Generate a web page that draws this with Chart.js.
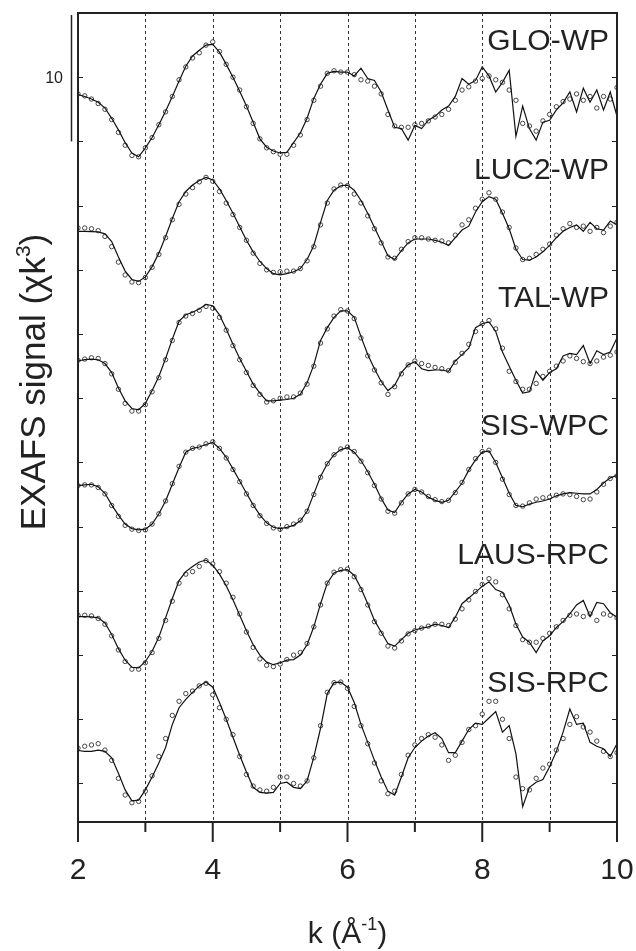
<!DOCTYPE html>
<html>
<head>
<meta charset="utf-8">
<script src="https://cdn.jsdelivr.net/npm/chart.js@4.4.1/dist/chart.umd.min.js"></script>
<style>
  html, body { margin: 0; padding: 0; background: #fff; }
</style>
</head>
<body>
<canvas id="exafs" width="636" height="951"></canvas>
<script>
// k grid (Å^-1)
const kValues = [
  2.0, 2.1, 2.2, 2.3, 2.4, 2.5, 2.6, 2.7, 2.8, 2.9,
  3.0, 3.1, 3.2, 3.3, 3.4, 3.5, 3.6, 3.7, 3.8, 3.9,
  4.0, 4.1, 4.2, 4.3, 4.4, 4.5, 4.6, 4.7, 4.8, 4.9,
  5.0, 5.1, 5.2, 5.3, 5.4, 5.5, 5.6, 5.7, 5.8, 5.9,
  6.0, 6.1, 6.2, 6.3, 6.4, 6.5, 6.6, 6.7, 6.8, 6.9,
  7.0, 7.1, 7.2, 7.3, 7.4, 7.5, 7.6, 7.7, 7.8, 7.9,
  8.0, 8.1, 8.2, 8.3, 8.4, 8.5, 8.6, 8.7, 8.8, 8.9,
  9.0, 9.1, 9.2, 9.3, 9.4, 9.5, 9.6, 9.7, 9.8, 9.9,
  10.0
];

const sampleNames = ["GLO-WP", "LUC2-WP", "TAL-WP", "SIS-WPC", "LAUS-RPC", "SIS-RPC"];
// vertical shift of each spectrum (chi*k^3 units)
const sampleOffsets = [53, 43, 33, 23, 13, 3];

// fitted spectra (solid lines)
const gloFit = [
  0.65, 0.5, 0.3, 0.05, -0.4, -1.2, -2.1, -3.1, -3.9, -4.2,
  -3.5, -2.7, -1.7, -0.65, 0.5, 1.7, 2.85, 3.65, 4.1, 4.5,
  4.55, 3.95, 3.0, 2.0, 0.9, -0.25, -1.5, -2.8, -3.45, -3.75,
  -3.9, -3.85, -3.1, -2.35, -1.2, 0.35, 1.45, 2.3, 2.45, 2.4,
  2.4, 2.1, 2.7, 1.9, 1.75, 0.85, -0.55, -1.9, -2.0, -2.9,
  -1.75, -2.0, -1.35, -1.05, -0.55, -0.25, 0.5, 1.9, 1.45, 1.75,
  2.8, 2.1, 0.85, 1.6, 2.55, -2.6, -0.25, -2.0, -2.9, -1.5,
  -1.35, -0.55, 0, 0.85, -0.7, 1.15, 0.05, 1.0, -0.55, 0.85,
  -1.05
];
const luc2Fit = [
  0.0, 0.0, -0.02, -0.05, -0.2, -0.8, -2.0, -3.1, -3.75, -3.9,
  -3.55, -2.75, -1.7, -0.4, 1.0, 2.3, 3.1, 3.6, 3.95, 4.2,
  4.0, 3.3, 2.4, 1.4, 0.35, -0.7, -1.6, -2.35, -2.9, -3.3,
  -3.4, -3.3, -3.15, -2.9, -2.2, -1.1, 0.7, 2.4, 3.2, 3.55,
  3.6, 3.2, 2.4, 1.4, 0.3, -0.8, -1.9, -2.2, -1.5, -0.9,
  -0.6, -0.6, -0.6, -0.7, -0.85, -1.1, -0.5, 0.1, 0.4, 1.5,
  2.3, 2.7, 2.5, 1.4, 0.2, -1.4, -2.2, -2.25, -2.0, -1.6,
  -1.1, -0.5, 0.0, 0.3, 0.5, 0.0, 0.7, 0.2, 0.1, 0.8,
  0.5
];
const talFit = [
  -0.1, 0.0, 0.05, 0.0, -0.3, -1.0, -2.2, -3.2, -3.8, -3.9,
  -3.4, -2.4, -1.3, 0.1, 1.6, 3.0, 3.5, 3.7, 3.95, 4.3,
  4.2, 3.5, 2.4, 1.2, 0.1, -0.9, -1.9, -2.6, -3.2, -3.2,
  -3.15, -3.1, -3.0, -2.7, -1.8, -0.4, 1.5, 2.5, 3.3, 3.8,
  3.8, 3.3, 1.8, 0.4, -0.7, -1.7, -2.4, -2.0, -1.0, -0.4,
  -0.15, -0.7, -0.85, -0.8, -0.8, -0.9, -0.1, 0.4, 0.9, 2.5,
  2.8, 2.95, 2.2, 0.6, -0.5, -1.6, -2.6, -2.5, -0.9, -1.6,
  -1.0, -0.7, 0.3, 0.5, 0.4, 1.1, -0.3, 0.7, 0.4, 0.6,
  1.7
];
const sisWpcFit = [
  0.2, 0.25, 0.3, 0.1, -0.4, -1.3, -2.1, -2.8, -3.15, -3.25,
  -3.2, -2.8, -2.0, -1.0, 0.3, 1.6, 2.8, 3.1, 3.2, 3.4,
  3.55, 3.1, 2.4, 1.5, 0.55, -0.4, -1.3, -2.1, -2.7, -3.05,
  -3.15, -3.05, -2.9, -2.55, -1.8, -0.45, 0.9, 1.9, 2.6, 3.0,
  3.15, 2.8, 2.15, 1.3, 0.3, -0.8, -1.7, -1.9, -1.1, -0.45,
  -0.1, -0.3, -0.7, -0.95, -1.1, -0.95, -0.3, 0.4, 1.4, 2.2,
  2.8, 2.9, 2.0, 0.8, -0.4, -1.35, -1.45, -1.25, -1.1, -1.0,
  -0.85, -0.6, -0.45, -0.35, -0.4, -0.45, -0.45, -0.1, 0.4, 0.8,
  1.0
];
const lausFit = [
  0.0, 0.0, -0.02, -0.1, -0.5, -1.4, -2.5, -3.4, -3.95, -4.0,
  -3.5, -2.7, -1.6, -0.1, 1.4, 2.8, 3.5, 3.9, 4.25, 4.4,
  4.0, 3.3, 2.4, 1.3, 0.1, -1.1, -2.2, -3.0, -3.55, -3.75,
  -3.6, -3.4, -3.35, -3.0, -2.2, -0.8, 1.0, 2.6, 3.4, 3.6,
  3.65, 3.2, 2.2, 1.0, -0.3, -1.2, -2.1, -2.3, -1.8, -1.3,
  -1.05, -0.9, -0.8, -0.6, -0.7, -0.85, -0.05, 1.0, 1.45, 1.9,
  2.35, 2.7, 2.1, 1.9, 0.9, -0.6, -1.6, -2.0, -2.8, -1.9,
  -1.5, -0.85, -0.4, 0.2, 0.9, 1.25, 0.0, 1.1, 1.0, 0.3,
  -0.05
];
const sisRpcFit = [
  -0.43, -0.5, -0.5, -0.4, -0.5, -1.0, -2.2, -3.5, -4.35, -4.3,
  -3.5, -2.5, -1.4, -0.2, 1.6, 2.9, 3.55, 4.1, 4.6, 4.9,
  4.5, 3.3, 2.0, 0.6, -0.8, -2.1, -3.3, -3.7, -3.75, -3.7,
  -3.0, -2.9, -3.3, -3.4, -2.8, -0.95, 1.3, 4.0, 4.85, 4.9,
  4.5, 3.3, 1.6, 0.2, -1.2, -2.5, -3.6, -3.9, -2.5, -1.0,
  -0.2, 0.3, 0.7, 0.95, 0.5, -0.6, -0.6, 0.3, 1.2, 1.7,
  1.6, 2.1, 2.6, 1.0, 1.5, -0.7, -4.8, -3.3, -2.9, -2.7,
  -1.7, -0.5, 1.0, 2.8, 1.6, 1.7, 0.2, -0.1, -0.3, -0.9,
  0.1
];

// measured spectra (open circles)
const gloData = [
  0.7, 0.55, 0.3, -0.05, -0.5, -1.3, -2.3, -3.3, -4.1, -4.2,
  -3.5, -2.7, -1.7, -0.7, 0.5, 1.8, 2.8, 3.5, 3.9, 4.5,
  4.75, 4.0, 3.0, 2.0, 1.0, -0.3, -1.6, -2.8, -3.5, -3.8,
  -4.0, -4.0, -3.3, -2.5, -1.3, 0.2, 1.3, 2.3, 2.5, 2.4,
  2.4, 2.2, 1.8, 1.7, 1.3, 0.7, -0.9, -1.8, -1.9, -1.9,
  -1.7, -1.6, -1.4, -1.1, -0.9, -0.5, 0.2, 1.0, 1.25, 1.7,
  1.9, 2.1, 1.8, 1.6, 1.0, 0.2, -1.6, -1.8, -2.2, -1.4,
  -0.9, -0.3, 0.1, 0.3, 0.7, 0.2, 0.5, -0.4, 0.5, 0.3,
  1.2
];
const luc2Data = [
  0.26, 0.26, 0.2, 0.05, -0.4, -1.2, -2.4, -3.4, -3.95, -4.0,
  -3.6, -2.8, -1.8, -0.5, 0.9, 2.1, 2.9, 3.4, 3.85, 4.2,
  3.9, 3.1, 2.2, 1.3, 0.3, -0.7, -1.7, -2.5, -3.0, -3.2,
  -3.15, -3.1, -3.1, -2.9, -2.3, -1.2, 0.5, 2.2, 3.3, 3.6,
  3.55, 2.9, 2.2, 1.2, 0.2, -0.9, -2.0, -2.1, -1.4, -0.8,
  -0.5, -0.5, -0.6, -0.7, -0.75, -0.9, -0.3, 0.5, 0.9, 1.8,
  2.5, 3.0, 2.5, 1.5, 0.3, -1.3, -2.2, -2.1, -1.8, -1.4,
  -1.0, -0.3, 0.2, 0.6, 0.3, 0.4, 0.0, 0.3, -0.1, 0.4,
  0.7
];
const talData = [
  -0.05, 0.05, 0.15, 0.1, -0.3, -1.1, -2.3, -3.4, -4.0, -4.0,
  -3.5, -2.5, -1.4, 0.0, 1.5, 2.9, 3.4, 3.6, 3.85, 4.15,
  4.0, 3.3, 2.3, 1.1, 0.0, -1.0, -2.0, -2.7, -3.3, -3.2,
  -3.0, -2.9, -2.9, -2.6, -1.9, -0.5, 1.3, 2.4, 3.4, 3.9,
  3.8, 3.2, 1.7, 0.3, -0.8, -1.8, -2.7, -2.1, -1.1, -0.4,
  -0.1, -0.3, -0.45, -0.6, -0.7, -0.85, -0.2, 0.5, 1.2, 2.2,
  2.8, 3.05, 2.4, 0.9, -0.9, -1.7, -2.3, -2.3, -1.85, -1.3,
  -0.9, -0.5, -0.1, 0.3, 0.1, -0.15, -0.3, -0.1, 0.2, 0.35,
  0.6
];
const sisWpcData = [
  0.2, 0.25, 0.25, 0.05, -0.45, -1.35, -2.2, -2.9, -3.2, -3.3,
  -3.25, -2.8, -2.0, -1.0, 0.35, 1.7, 2.8, 3.1, 3.2, 3.45,
  3.6, 3.1, 2.35, 1.45, 0.5, -0.45, -1.35, -2.15, -2.75, -3.1,
  -3.2, -3.0, -2.8, -2.5, -1.8, -0.5, 0.85, 1.9, 2.6, 3.05,
  3.2, 2.85, 2.1, 1.2, 0.2, -0.85, -1.8, -1.95, -1.15, -0.45,
  -0.1, -0.3, -0.65, -0.9, -1.05, -0.95, -0.35, 0.45, 1.45, 2.3,
  2.85, 2.95, 2.0, 0.7, -0.5, -1.35, -1.4, -1.15, -0.85, -0.75,
  -0.7, -0.55, -0.45, -0.5, -0.65, -0.9, -0.85, -0.3, 0.3, 0.75,
  0.95
];
const lausData = [
  0.1, 0.1, 0.05, -0.15, -0.6, -1.5, -2.6, -3.5, -4.1, -4.1,
  -3.6, -2.8, -1.7, -0.3, 1.2, 2.6, 3.3, 3.5, 3.9, 4.35,
  4.1, 3.5, 2.6, 1.5, 0.2, -1.2, -2.4, -3.3, -3.8, -3.9,
  -3.7, -3.35, -3.0, -2.8, -2.1, -0.8, 0.9, 2.6, 3.45, 3.65,
  3.7, 3.1, 2.1, 0.9, -0.4, -1.3, -2.3, -2.45, -1.9, -1.35,
  -1.1, -0.9, -0.75, -0.6, -0.6, -0.7, -0.2, 0.6, 1.3, 1.95,
  2.5, 2.95, 2.7, 1.7, 0.6, -0.7, -1.8, -2.0, -2.0, -1.7,
  -1.3, -0.8, -0.3, 0.1, 0.2, 0.0, 0.2, -0.3, 0.2, 0.1,
  -0.1
];
const sisRpcData = [
  -0.25, -0.1, 0.0, 0.1, -0.4, -1.2, -2.6, -3.9, -4.5, -4.4,
  -3.6, -2.4, -0.9, 0.5, 2.3, 3.4, 4.0, 4.2, 4.6, 4.8,
  3.9, 2.9, 2.0, 0.8, -0.9, -2.3, -3.2, -3.5, -3.6, -3.3,
  -2.5, -2.5, -3.0, -3.2, -2.8, -1.0, 1.5, 4.1, 4.85, 4.9,
  4.4, 3.0, 1.5, 0.1, -1.4, -2.8, -3.8, -3.6, -2.3, -0.8,
  0.0, 0.5, 0.8, 0.6, 0.0, -1.2, -0.8, 0.2, 1.2, 1.5,
  2.4, 3.4, 3.4, 2.0, 0.5, -2.5, -3.4, -3.5, -2.6, -1.8,
  -1.5, -0.4, 0.5, 1.6, 2.2, 1.4, 1.0, 0.3, -0.5, -0.9,
  -0.6
];

const fitSeries = [gloFit, luc2Fit, talFit, sisWpcFit, lausFit, sisRpcFit];
const dataSeries = [gloData, luc2Data, talData, sisWpcData, lausData, sisRpcData];

// axis ticks
const xTickValues = [2, 3, 4, 5, 6, 7, 8, 9, 10];
const xTickLabels = ["2", "", "4", "", "6", "", "8", "", "10"];
const yTickValues = [0, 5, 10, 15, 20, 25, 30, 35, 40, 45, 50, 55];
const scaleBar = { from: 50, to: 60, label: "10" };

const FONT = '"Liberation Sans", Arial, Helvetica, sans-serif';
const INK = "#222";

function shifted(values, offset) {
  return values.map((v, i) => ({ x: kValues[i], y: v + offset }));
}

const datasets = [];
sampleNames.forEach((name, s) => {
  datasets.push({
    label: name + " fit",
    data: shifted(fitSeries[s], sampleOffsets[s]),
    borderColor: "#111",
    borderWidth: 1.2,
    pointRadius: 0,
    fill: false,
    tension: 0
  });
  datasets.push({
    label: name + " data",
    data: shifted(dataSeries[s], sampleOffsets[s]),
    showLine: false,
    pointRadius: 2.2,
    pointBorderWidth: 0.9,
    pointBorderColor: "#333",
    pointBackgroundColor: "rgba(255,255,255,0)"
  });
});

// text with a raised part, drawn at (x, y) and centred
function drawSupText(ctx, parts, x, y) {
  let total = 0;
  parts.forEach(p => {
    ctx.font = p.size + "px " + FONT;
    p.w = ctx.measureText(p.text).width;
    total += p.w;
  });
  let cx = x - total / 2;
  parts.forEach(p => {
    ctx.font = p.size + "px " + FONT;
    ctx.fillText(p.text, cx, y - (p.rise || 0));
    cx += p.w;
  });
}

const decor = {
  id: "decor",
  beforeDatasetsDraw(chart) {
    const { ctx, chartArea: a, scales: { x } } = chart;
    ctx.save();
    ctx.strokeStyle = "#333";
    ctx.lineWidth = 1;
    ctx.setLineDash([3, 3]);
    x.ticks.forEach(t => {
      if (t.value === x.min || t.value === x.max) return;
      const px = Math.round(x.getPixelForValue(t.value)) + 0.5;
      ctx.beginPath();
      ctx.moveTo(px, a.top);
      ctx.lineTo(px, a.bottom);
      ctx.stroke();
    });
    ctx.restore();
  },
  afterDatasetsDraw(chart) {
    const { ctx, chartArea: a, scales: { x, y } } = chart;
    ctx.save();
    ctx.strokeStyle = INK;
    ctx.fillStyle = INK;

    // frame
    ctx.lineWidth = 2;
    ctx.strokeRect(a.left, a.top, a.right - a.left, a.bottom - a.top);

    // x ticks (outside) + labels
    ctx.lineWidth = 2;
    ctx.font = "30px " + FONT;
    ctx.textAlign = "center";
    ctx.textBaseline = "alphabetic";
    x.ticks.forEach((t, i) => {
      const px = x.getPixelForValue(t.value);
      const len = xTickLabels[i] ? 20 : 10;
      ctx.beginPath();
      ctx.moveTo(px, a.bottom);
      ctx.lineTo(px, a.bottom + len);
      ctx.stroke();
      if (xTickLabels[i]) ctx.fillText(xTickLabels[i], px, 879);
    });

    // y ticks (inside, both sides)
    ctx.lineWidth = 1.2;
    y.ticks.forEach(t => {
      const py = Math.round(y.getPixelForValue(t.value)) + 0.5;
      ctx.beginPath();
      ctx.moveTo(a.left, py);
      ctx.lineTo(a.left + 5, py);
      ctx.moveTo(a.right, py);
      ctx.lineTo(a.right - 5, py);
      ctx.stroke();
    });

    // scale bar
    ctx.lineWidth = 1.5;
    const yb1 = y.getPixelForValue(scaleBar.from);
    const yb2 = y.getPixelForValue(scaleBar.to) + 2;
    ctx.beginPath();
    ctx.moveTo(71.5, yb1);
    ctx.lineTo(71.5, yb2);
    ctx.stroke();
    ctx.font = "16px " + FONT;
    ctx.textAlign = "right";
    ctx.textBaseline = "middle";
    ctx.fillText(scaleBar.label, 63, y.getPixelForValue((scaleBar.from + scaleBar.to) / 2) + 1);

    // sample names
    ctx.font = "30px " + FONT;
    ctx.textAlign = "right";
    ctx.textBaseline = "alphabetic";
    sampleNames.forEach((name, s) => {
      ctx.fillText(name, 609, y.getPixelForValue(sampleOffsets[s] + 4.1));
    });

    // axis titles
    ctx.textAlign = "left";
    drawSupText(ctx, [
      { text: "k (Å", size: 30 },
      { text: "-1", size: 18, rise: 13 },
      { text: ")", size: 30 }
    ], (a.left + a.right) / 2, 943);

    ctx.translate(45, 382);
    ctx.rotate(-Math.PI / 2);
    drawSupText(ctx, [
      { text: "EXAFS signal (χk", size: 35 },
      { text: "3", size: 21, rise: 15 },
      { text: ")", size: 35 }
    ], 0, 0);
    ctx.restore();
  }
};

new Chart(document.getElementById("exafs"), {
  type: "line",
  data: { datasets },
  options: {
    responsive: false,
    animation: false,
    layout: { padding: { left: 78, right: 19, top: 13, bottom: 129 } },
    plugins: { legend: { display: false }, tooltip: { enabled: false } },
    scales: {
      x: {
        type: "linear",
        display: false,
        min: 2,
        max: 10,
        afterBuildTicks: scale => { scale.ticks = xTickValues.map(v => ({ value: v })); }
      },
      y: {
        type: "linear",
        display: false,
        min: -3,
        max: 60,
        afterBuildTicks: scale => { scale.ticks = yTickValues.map(v => ({ value: v })); }
      }
    }
  },
  plugins: [decor]
});
</script>
</body>
</html>
